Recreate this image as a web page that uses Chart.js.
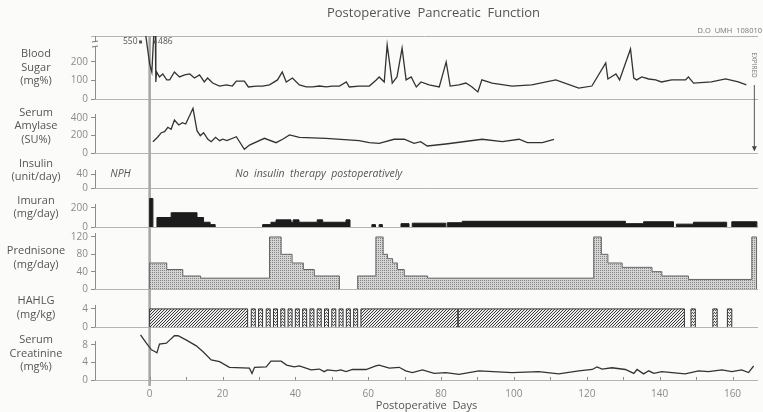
<!DOCTYPE html>
<html>
<head>
<meta charset="utf-8">
<script src="https://cdn.jsdelivr.net/npm/chart.js@4.4.1/dist/chart.umd.min.js"></script>
<style>
  html, body { margin: 0; padding: 0; background: #fbfbfa; }
  #wrap { width: 763px; height: 412px; position: relative; }
</style>
</head>
<body>
<div id="wrap"><canvas id="pancreas"></canvas></div>
<script>
// Postoperative pancreatic function panels, day 0 = operation
const FONT = '"Open Sans", "DejaVu Sans", sans-serif';
const INK = '#333';
const MUTED = '#8a8a8a';
const LABEL = '#555';

// blood sugar, mg%
const sugarDays = [-2.5, 0, 0.6, 1.5, 1.7, 1.9, 2.7, 3.6, 4.7, 5.5, 6.8, 8.2, 9.6, 11, 12.3, 13.7, 15, 15.9, 17.3, 19.2, 21.1, 22.7, 23.8, 26, 27.1, 29.3, 31, 32.9, 35.1, 36.4, 37.5, 39.2, 41.1, 43, 44.7, 46.6, 48.5, 50.1, 52.1, 54, 54.8, 57.5, 60.3, 62.2, 63, 64.4, 65.2, 66.6, 67.9, 69.3, 70.4, 71.8, 73.2, 74.5, 76.7, 79.5, 81.4, 82.5, 84.9, 86.8, 88.5, 90.1, 91.2, 94, 99.5, 104.9, 111.5, 117.8, 121.4, 125.2, 125.8, 128, 129, 132, 132.9, 133.7, 135.1, 137, 138.9, 140.5, 143.3, 147.1, 147.9, 149.3, 154.2, 158.1, 161.6, 163.8];
const sugarValues = [550, 190, 145, 486, 92, 146, 119, 135, 103, 103, 146, 119, 130, 135, 113, 130, 92, 113, 86, 70, 76, 70, 97, 97, 65, 70, 70, 76, 103, 146, 92, 113, 76, 65, 65, 70, 65, 70, 70, 92, 65, 70, 70, 103, 119, 92, 292, 86, 119, 275, 103, 119, 65, 92, 76, 65, 200, 70, 76, 86, 65, 38, 103, 86, 70, 76, 103, 59, 70, 195, 108, 135, 103, 270, 113, 103, 119, 108, 103, 92, 103, 103, 119, 86, 92, 108, 92, 76];

// serum amylase, SU%
const amylaseDays = [0.9, 2.3, 3.2, 4.1, 5, 5.9, 6.8, 8, 9, 9.9, 11.9, 13, 13.9, 14.8, 16, 16.9, 18.1, 19.2, 20.1, 21.2, 23.8, 26, 27.4, 31.5, 34.7, 36.5, 38.4, 41.1, 48.4, 57.5, 60.3, 63, 67.1, 69.9, 72.6, 74.4, 76.2, 81.3, 91.3, 96.8, 101.4, 103.7, 107.8, 111];
const amylaseValues = [129, 186, 232, 243, 294, 271, 377, 320, 346, 331, 511, 255, 198, 232, 157, 129, 179, 141, 157, 141, 186, 42, 91, 168, 118, 157, 206, 179, 168, 141, 118, 111, 157, 157, 111, 129, 80, 103, 157, 129, 157, 118, 118, 157];

// imuran, mg/day: [first day, last day, dose]
const imuranRuns = [
  [0, 0.9, 300], [2, 5.9, 100], [5.9, 13, 150], [13, 14.8, 100], [14.8, 16.6, 50], [16.6, 18, 25],
  [31, 33.3, 25], [33.3, 34.7, 50], [34.7, 38.8, 75], [38.8, 39.4, 50], [39.4, 41, 75], [41, 46, 50],
  [46, 47.5, 75], [47.5, 53.9, 50], [53.9, 55, 75],
  [61, 62, 25], [63, 63.9, 25],
  [69, 71.2, 35], [72.1, 81.3, 40], [81.7, 85.8, 45], [85.8, 130.6, 60], [130.6, 135.6, 35],
  [135.6, 143.8, 55], [144.6, 149.3, 30], [149.3, 158.4, 50], [159.8, 166.7, 55]
];

// prednisone, mg/day
const prednisoneRuns = [
  [0, 4.7, 60], [4.7, 9.1, 45], [9.1, 14, 30], [14, 32.9, 25], [32.9, 36.1, 120], [36.1, 39.1, 80],
  [39.1, 42.2, 60], [42.2, 45.2, 45], [45.2, 52.1, 30],
  [57.1, 62.1, 30], [62.1, 64.1, 120], [64.1, 65.3, 80], [65.3, 66.7, 70], [66.7, 68, 60], [68, 69.9, 45],
  [69.9, 76.3, 30], [76.3, 121.9, 25], [121.9, 124, 120], [124, 125.8, 80], [125.8, 129.7, 60],
  [129.7, 137.9, 50], [137.9, 140.6, 40], [140.6, 147.9, 30], [147.9, 165.3, 22], [165.3, 166.6, 120]
];

// HAHLG, mg/kg: continuous courses and alternate-day pulses
const hahlgCourses = [[0, 26.9, 4], [58, 84.6, 4], [84.7, 146.8, 4]];
const hahlgPulses = [
  [27.9, 29, 4], [29.9, 31, 4], [32, 33.1, 4], [34, 35.1, 4], [36, 37.1, 4], [38, 39.1, 4], [40, 41.1, 4],
  [42, 43.1, 4], [44, 45.1, 4], [46, 47.1, 4], [48, 49.1, 4], [50, 51.1, 4], [52, 53.1, 4], [54, 55.1, 4],
  [56, 57.1, 4], [148.6, 149.8, 4], [154.6, 155.8, 4], [158.6, 159.8, 4]
];

// serum creatinine, mg%
const creatinineDays = [-2.5, -0.9, 0.5, 1.4, 2, 2.7, 4.6, 5.5, 6.8, 7.8, 10.1, 12.8, 14.6, 16.9, 19.2, 21.9, 27.4, 28.1, 28.8, 32, 33.3, 36.1, 37.6, 39.7, 41.1, 44.3, 46.6, 47.9, 48.8, 51.2, 52.5, 53.9, 55.7, 59.4, 62.1, 63, 65.8, 68.5, 70.3, 72.1, 74.9, 78.1, 81.3, 84.9, 90.4, 99.5, 106.8, 112.3, 117.8, 121.5, 122.8, 124.2, 126.9, 130.6, 132.9, 133.8, 135.6, 137, 138.4, 140.6, 143.4, 147, 150.7, 153.4, 157.1, 159.8, 162.5, 164.4, 165.8];
const creatinineValues = [10.3, 8.4, 6.9, 6.5, 6.2, 8.2, 8.4, 9.1, 10.1, 10.1, 9.1, 7.8, 6.5, 4.6, 4.2, 2.9, 2.7, 1.5, 2.9, 3.0, 4.3, 4.3, 3.4, 3.0, 3.2, 2.3, 2.5, 1.9, 2.3, 2.1, 2.3, 1.9, 2.4, 2.4, 3.2, 3.4, 2.7, 2.9, 2.1, 1.7, 2.3, 1.5, 1.7, 1.3, 2.1, 1.7, 1.9, 1.4, 2.1, 2.4, 3.0, 2.5, 2.8, 2.4, 1.5, 2.4, 1.4, 2.1, 1.5, 1.9, 1.7, 1.4, 2.1, 1.9, 2.3, 1.9, 2.3, 1.7, 3.2];

// axis ticks
const dayTicks = [0, 20, 40, 60, 80, 100, 120, 140, 160];
const dayMinorTicks = [0, 10, 20, 30, 40, 50, 60, 70, 80, 90, 100, 110, 120, 130, 140, 150, 160];
const sugarTicks = [0, 100, 200];
const amylaseTicks = [0, 200, 400];
const insulinTicks = [0, 40];
const imuranTicks = [0, 200];
const prednisoneTicks = [0, 40, 80, 120];
const hahlgTicks = [0, 4];
const creatinineTicks = [0, 4, 8];

const expiredDay = 166;

// panels top to bottom; share = slice of the plot height
const panels = [
  { id: 'ySugar', max: 340, ticks: sugarTicks, share: 63, label: ['Blood', 'Sugar', '(mg%)'] },
  { id: 'yAmylase', max: 617, ticks: amylaseTicks, share: 54, label: ['Serum', 'Amylase', '(SU%)'] },
  { id: 'yInsulin', max: 100, ticks: insulinTicks, share: 35, label: ['Insulin', '(unit/day)'] },
  { id: 'yImuran', max: 410, ticks: imuranTicks, share: 39, label: ['Imuran', '(mg/day)'] },
  { id: 'yPred', max: 143, ticks: prednisoneTicks, share: 62, label: ['Prednisone', '(mg/day)'] },
  { id: 'yHahlg', max: 8.4, ticks: hahlgTicks, share: 38, label: ['HAHLG', '(mg/kg)'] },
  { id: 'yCreat', max: 12.1, ticks: creatinineTicks, share: 53, label: ['Serum', 'Creatinine', '(mg%)'] }
];

function tile(w, h, paint) {
  const c = document.createElement('canvas');
  c.width = w; c.height = h;
  const g = c.getContext('2d');
  paint(g);
  return g.createPattern(c, 'repeat');
}

const stipple = tile(2, 2, g => {
  g.fillStyle = '#d4d4d4'; g.fillRect(0, 0, 2, 2);
  g.fillStyle = '#858585'; g.fillRect(0, 0, 1, 1);
});
const hatch = tile(3, 3, g => {
  g.fillStyle = '#eeeeee'; g.fillRect(0, 0, 3, 3);
  g.fillStyle = '#3a3a3a';
  g.fillRect(2, 0, 1, 1); g.fillRect(1, 1, 1, 1); g.fillRect(0, 2, 1, 1);
});
const ripple = tile(2, 3, g => {
  g.fillStyle = '#eeeeee'; g.fillRect(0, 0, 2, 3);
  g.fillStyle = '#555';
  g.fillRect(0, 0, 1, 1); g.fillRect(1, 1, 1, 1);
});

// runs -> step outline; adjoining runs share an edge, gaps break the line
function stepPoints(runs) {
  const pts = [];
  runs.forEach(([a, b, v], i) => {
    const prev = runs[i - 1];
    if (prev && Math.abs(prev[1] - a) < 1e-6) {
      pts.push({ x: a, y: v });
    } else {
      if (prev) pts.push({ x: prev[1], y: 0 }, { x: prev[1], y: null });
      pts.push({ x: a, y: 0 }, { x: a, y: v });
    }
  });
  pts.push({ x: runs[runs.length - 1][1], y: 0 });
  return pts;
}

const curve = (label, days, vals, axis) => ({
  label, yAxisID: axis, data: days.map((d, i) => ({ x: d, y: vals[i] })),
  borderColor: INK, borderWidth: 1.3, pointRadius: 0, tension: 0, fill: false
});
// 'before': hold the current dose until the next point, then step
const steps = (label, runs, axis, fillStyle, edge) => ({
  label, yAxisID: axis, data: stepPoints(runs), stepped: 'before',
  borderColor: edge, borderWidth: 1, pointRadius: 0, fill: 'origin', backgroundColor: fillStyle
});

const scales = {
  x: {
    type: 'linear', min: -15, max: 167,
    afterBuildTicks: s => { s.ticks = dayTicks.map(v => ({ value: v })); },
    afterFit: s => { s.height = 32; },
    grid: { display: false, drawTicks: false }, border: { display: false },
    ticks: { color: MUTED, font: { family: FONT, size: 10 }, padding: 8, maxRotation: 0, autoSkip: false },
    title: { display: true, text: 'Postoperative  Days', color: LABEL, font: { family: FONT, size: 11 }, padding: 0 }
  }
};
panels.forEach((p, i) => {
  scales[p.id] = {
    type: 'linear', position: 'left', stack: 'panels', stackWeight: p.share, weight: panels.length - i,
    min: 0, max: p.max,
    afterBuildTicks: s => { s.ticks = p.ticks.map(v => ({ value: v })); },
    afterFit: s => { s.width = 95; },
    border: { display: false },
    grid: {
      color: c => (c.tick && c.tick.value === 0 ? '#b4b4b4' : 'rgba(0,0,0,0)'),
      tickColor: '#8c8c8c', tickLength: 4, lineWidth: 1
    },
    ticks: { color: MUTED, font: { family: FONT, size: 10 }, padding: 3, autoSkip: false }
  };
});

function stroke(ctx, x1, y1, x2, y2) {
  ctx.beginPath(); ctx.moveTo(x1, y1); ctx.lineTo(x2, y2); ctx.stroke();
}

const decorations = {
  id: 'decorations',
  beforeDatasetsDraw(chart) {
    const { ctx, chartArea: a, scales: s } = chart;
    ctx.save();
    ctx.strokeStyle = '#b4b4b4'; ctx.lineWidth = 1;
    stroke(ctx, a.left - 4, a.top + 0.5, a.right, a.top + 0.5);

    // left axis of each panel
    ctx.strokeStyle = '#8c8c8c';
    panels.forEach((p, i) => {
      const sc = s[p.id];
      const top = i === 0 ? a.top : sc.getPixelForValue(p.ticks[p.ticks.length - 1]) - 4;
      stroke(ctx, a.left + 0.5, sc.getPixelForValue(0), a.left + 0.5, top);
    });
    // scale break on the blood sugar axis
    ctx.fillStyle = '#fbfbfa';
    ctx.fillRect(a.left - 3, a.top + 6, 7, 5);
    ctx.strokeStyle = '#777';
    stroke(ctx, a.left - 3, a.top + 6, a.left + 3, a.top + 5);
    stroke(ctx, a.left - 3, a.top + 11, a.left + 3, a.top + 10);

    // day of operation
    const x0 = s.x.getPixelForValue(0);
    ctx.strokeStyle = '#a8a8a8'; ctx.lineWidth = 2.6;
    stroke(ctx, x0, a.top, x0, a.bottom + 6);

    // minor day ticks on the bottom rule
    ctx.strokeStyle = '#8c8c8c'; ctx.lineWidth = 1;
    dayMinorTicks.forEach(d => {
      const x = Math.round(s.x.getPixelForValue(d)) + 0.5;
      stroke(ctx, x, a.bottom, x, a.bottom - 3);
    });
    ctx.restore();
  },
  afterDraw(chart) {
    const { ctx, chartArea: a, scales: s } = chart;
    ctx.save();
    ctx.fillStyle = LABEL;
    ctx.textBaseline = 'middle';

    ctx.font = `13px ${FONT}`;
    ctx.textAlign = 'center';
    ctx.fillText('Postoperative  Pancreatic  Function', (a.left + a.right) / 2 + 7, 13);
    ctx.font = `7.5px ${FONT}`;
    ctx.textAlign = 'right';
    ctx.fillStyle = '#777';
    ctx.fillText('D.O  UMH  108010', a.right + 4, 31);

    // panel names
    ctx.fillStyle = LABEL;
    ctx.font = `11px ${FONT}`;
    ctx.textAlign = 'center';
    panels.forEach(p => {
      const sc = s[p.id];
      const mid = (sc.top + sc.bottom) / 2;
      p.label.forEach((t, k) => ctx.fillText(t, 36, mid + (k - (p.label.length - 1) / 2) * 13.5));
    });

    // insulin notes
    const yi = s.yInsulin.getPixelForValue(40);
    ctx.font = `italic 10.5px ${FONT}`;
    ctx.fillText('NPH', s.x.getPixelForValue(-8), yi);
    ctx.textAlign = 'left';
    ctx.fillText('No  insulin  therapy  postoperatively', s.x.getPixelForValue(23.5), yi);

    // off-scale blood sugars
    ctx.font = `8.5px ${FONT}`;
    ctx.fillStyle = '#555';
    sugarDays.forEach((d, i) => {
      if (sugarValues[i] <= panels[0].max) return;
      const x = s.x.getPixelForValue(d);
      const y = a.top + 6;
      ctx.fillRect(x - 1.5, y - 1.5, 3, 3);
      ctx.textAlign = d < 0 ? 'right' : 'left';
      ctx.fillText(String(sugarValues[i]), d < 0 ? x - 3 : x + 3, y);
    });

    // expired
    const xe = s.x.getPixelForValue(expiredDay);
    ctx.save();
    ctx.translate(xe, 65);
    ctx.rotate(Math.PI / 2);
    ctx.textAlign = 'center';
    ctx.font = `6.5px ${FONT}`;
    ctx.fillStyle = '#777';
    ctx.fillText('EXPIRED', 0, 0);
    ctx.restore();
    const ye = s.yAmylase.getPixelForValue(30);
    ctx.strokeStyle = '#555'; ctx.lineWidth = 1;
    stroke(ctx, xe, 85, xe, ye);
    ctx.fillStyle = '#444';
    ctx.beginPath(); ctx.moveTo(xe - 2.5, ye - 4); ctx.lineTo(xe + 2.5, ye - 4); ctx.lineTo(xe, ye + 1); ctx.closePath(); ctx.fill();
    ctx.restore();
  }
};

new Chart(document.getElementById('pancreas'), {
  type: 'line',
  data: {
    datasets: [
      curve('Blood sugar', sugarDays, sugarValues, 'ySugar'),
      curve('Serum amylase', amylaseDays, amylaseValues, 'yAmylase'),
      steps('Imuran', imuranRuns, 'yImuran', '#1c1c1c', '#1c1c1c'),
      steps('Prednisone', prednisoneRuns, 'yPred', stipple, '#666'),
      steps('HAHLG', hahlgCourses, 'yHahlg', hatch, '#333'),
      steps('HAHLG pulses', hahlgPulses, 'yHahlg', ripple, '#333'),
      curve('Serum creatinine', creatinineDays, creatinineValues, 'yCreat')
    ]
  },
  options: {
    responsive: true, maintainAspectRatio: false, animation: false,
    layout: { padding: { top: 36, right: 5, left: 0, bottom: 0 } },
    plugins: { legend: { display: false }, tooltip: { enabled: false } },
    scales
  },
  plugins: [decorations]
});
</script>
</body>
</html>
